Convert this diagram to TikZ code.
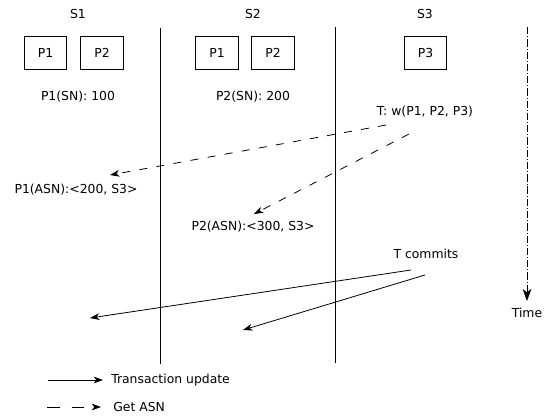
\documentclass[tikz,border=0pt]{standalone}
\usepackage{fontspec}
\setmainfont{DejaVu Sans}
\usetikzlibrary{arrows.meta}

\tikzset{
  pbox/.style={draw, line width=0.6pt, minimum width=32pt, minimum height=24.75pt, inner sep=0pt},
  lbl/.style={inner sep=0pt},
  cut/.style={line width=0.7pt},
  upd/.style={line width=0.6pt, -{Stealth[length=7pt,width=5pt,inset=2pt]}},
  asn/.style={upd, dash pattern=on 6pt off 7pt},
}

\begin{document}
\begin{tikzpicture}[x=0.75pt, y=-0.75pt, font=\fontsize{9.3}{11}\selectfont]
\useasboundingbox (0,0) rectangle (554,415);

%Sites and their partitions
\node[lbl] (s1) at (78,14) {S1};
\node[lbl] (s2) at (253,14) {S2};
\node[lbl] (s3) at (425,14) {S3};

\node[pbox] (s1p1) at (45.5,52.5) {P1};
\node[pbox] (s1p2) at (102,52.5) {P2};
\node[pbox] (s2p1) at (217,52.5) {P1};
\node[pbox] (s2p2) at (273,52.5) {P2};
\node[pbox] (s3p3) at (425.5,52.5) {P3};

\node[lbl] (sn1) at (78,97) {P1(SN): 100};
\node[lbl] (sn2) at (253,97) {P2(SN): 200};
\node[lbl] (tw) at (425,112) {T: w(P1, P2, P3)};
\node[lbl] (asn1) at (76,190) {P1(ASN):<200, S3>};
\node[lbl] (asn2) at (253,227) {P2(ASN):<300, S3>};
\node[lbl] (tc) at (426,254) {T commits};
\node[lbl] (time) at (527,313) {Time};

%Borders between sites
\coordinate (v1top) at (160,28);
\coordinate (v1bot) at (160,364);
\coordinate (v2top) at (335,27);
\coordinate (v2bot) at (335,363);
\draw[cut] (v1top) -- (v1bot);
\draw[cut] (v2top) -- (v2bot);

%Time axis
\coordinate (ttop) at (527,27);
\coordinate (tend) at (527,301);
\draw[line width=0.6pt, -{Stealth[length=9pt,width=6.5pt,inset=2.5pt]},
      dash pattern=on 5.5pt off 1.5pt on 0.7pt off 1.5pt] (ttop) -- (tend);

%Get ASN
\coordinate (ga1) at (386,125);
\coordinate (ge1) at (110,175);
\coordinate (ga2) at (409,134);
\coordinate (ge2) at (254,214);
\draw[asn] (ga1) -- (ge1);
\draw[asn] (ga2) -- (ge2);

%Transaction updates
\coordinate (ua1) at (411,270);
\coordinate (ue1) at (90,318);
\coordinate (ua2) at (425,275);
\coordinate (ue2) at (243,330);
\draw[upd] (ua1) -- (ue1);
\draw[upd] (ua2) -- (ue2);

%Legend
\coordinate (l1a) at (48,380);
\coordinate (l1b) at (103,380);
\coordinate (l2a) at (47,407);
\coordinate (l2b) at (101,407);
\draw[upd] (l1a) -- (l1b);
\draw[asn, dash pattern=on 9.5pt off 9pt] (l2a) -- (l2b);
\node[lbl, anchor=west] (lupd) at (111,380) {Transaction update};
\node[lbl, anchor=west] (lasn) at (113,407) {Get ASN};

\end{tikzpicture}
\end{document}
